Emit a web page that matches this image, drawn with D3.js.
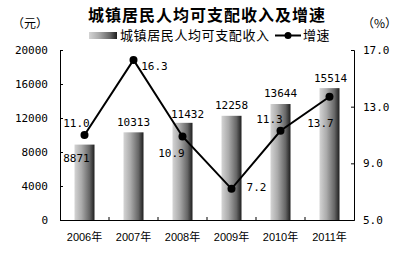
<!DOCTYPE html>
<html lang="zh">
<head>
<meta charset="UTF-8">
<title>城镇居民人均可支配收入及增速</title>
<script src="https://d3js.org/d3.v7.min.js"></script>
<style>
  body { margin: 0; background: #fff; }
  text { fill: #000; }
  .num { font-family: "DejaVu Sans Mono", monospace; font-size: 11px; }
  .cjk { font-family: "Noto Sans CJK SC", sans-serif; }
</style>
</head>
<body>
<script>
// data
var years = ["2006年", "2007年", "2008年", "2009年", "2010年", "2011年"]
var income = [8871, 10313, 11432, 12258, 13644, 15514]
var growth = [11.0, 16.3, 10.9, 7.2, 11.3, 13.7]
var leftTicks = [0, 4000, 8000, 12000, 16000, 20000]
var rightTicks = [5.0, 9.0, 13.0, 17.0]

var W = 414, H = 275
var plotL = 60, plotR = 354, plotT = 50, plotB = 220

var svg = d3.select("body").append("svg")
  .attr("width", W).attr("height", H)

var defs = svg.append("defs")
var grad = defs.append("linearGradient").attr("id", "barGrad")
  .attr("x1", "0%").attr("x2", "100%").attr("y1", "0%").attr("y2", "0%")
grad.append("stop").attr("offset", "0%").attr("stop-color", "#d4d4d4")
grad.append("stop").attr("offset", "35%").attr("stop-color", "#ababab")
grad.append("stop").attr("offset", "75%").attr("stop-color", "#666")
grad.append("stop").attr("offset", "100%").attr("stop-color", "#1e1e1e")

var x = d3.scaleBand().domain(years).range([plotL, plotR])
var yL = d3.scaleLinear().domain([0, 20000]).range([plotB, plotT])
var yR = d3.scaleLinear().domain([5, 17]).range([plotB, plotT])

// title
svg.append("text").attr("class", "cjk")
  .attr("x", 207).attr("y", 21).attr("text-anchor", "middle")
  .attr("font-size", 16).attr("font-weight", "bold").attr("letter-spacing", 1)
  .text("城镇居民人均可支配收入及增速")

svg.append("text").attr("class", "cjk").attr("x", 12).attr("y", 28)
  .attr("font-size", 12).text("（元）")
svg.append("text").attr("class", "cjk").attr("x", 362).attr("y", 28)
  .attr("font-size", 12).text("（%）")

// legend
svg.append("rect").attr("x", 89).attr("y", 32).attr("width", 28).attr("height", 7)
  .attr("fill", "url(#barGrad)")
svg.append("text").attr("class", "cjk").attr("x", 120).attr("y", 40)
  .attr("font-size", 13).attr("letter-spacing", 0.6).text("城镇居民人均可支配收入")
svg.append("line").attr("x1", 275).attr("x2", 301).attr("y1", 35.5).attr("y2", 35.5)
  .attr("stroke", "#000").attr("stroke-width", 2)
svg.append("circle").attr("cx", 288).attr("cy", 35.5).attr("r", 3.5).attr("fill", "#000")
svg.append("text").attr("class", "cjk").attr("x", 303).attr("y", 40)
  .attr("font-size", 13).attr("letter-spacing", 0.6).text("增速")

// bars
var bw = 20
svg.selectAll(".bar").data(income).enter().append("rect")
  .attr("class", "bar")
  .attr("x", function (d, i) { return x(years[i]) + x.bandwidth() / 2 - bw / 2 })
  .attr("y", function (d) { return yL(d) })
  .attr("width", bw)
  .attr("height", function (d) { return plotB - yL(d) })
  .attr("fill", "url(#barGrad)")

// axes
var axL = svg.append("g").attr("transform", "translate(" + plotL + ",0)")
  .call(d3.axisLeft(yL).tickValues(leftTicks).tickSize(-3).tickPadding(12).tickFormat(d3.format("d")))
var axR = svg.append("g").attr("transform", "translate(" + plotR + ",0)")
  .call(d3.axisRight(yR).tickValues(rightTicks).tickSize(-3).tickPadding(9).tickFormat(d3.format(".1f")))
var axB = svg.append("g").attr("transform", "translate(0," + plotB + ")")
  .call(d3.axisBottom(x).tickSize(0).tickPadding(13))

;[axL, axR, axB].forEach(function (g) {
  g.select(".domain").attr("stroke", "#000").attr("stroke-width", 1)
  g.selectAll(".tick line").attr("stroke", "#000")
})
axL.selectAll("text").attr("class", "num").attr("font-family", null).attr("font-size", null)
axR.selectAll("text").attr("class", "num").attr("font-family", null).attr("font-size", null)
axB.selectAll("text").attr("font-family", "Liberation Sans, Noto Sans CJK SC, sans-serif").attr("font-size", 11)

// category boundary ticks on the x axis
svg.selectAll(".xt").data(years.slice(1)).enter().append("line")
  .attr("x1", function (d) { return x(d) }).attr("x2", function (d) { return x(d) })
  .attr("y1", plotB).attr("y2", plotB - 3).attr("stroke", "#000")

// growth line
var line = d3.line()
  .x(function (d, i) { return x(years[i]) + x.bandwidth() / 2 })
  .y(function (d) { return yR(d) })
svg.append("path").datum(growth).attr("d", line)
  .attr("fill", "none").attr("stroke", "#000").attr("stroke-width", 2)
svg.selectAll(".pt").data(growth).enter().append("circle")
  .attr("cx", function (d, i) { return x(years[i]) + x.bandwidth() / 2 })
  .attr("cy", function (d) { return yR(d) })
  .attr("r", 4).attr("fill", "#000")

// value labels (offsets relative to the bar / point)
var incomeOff = [[-8, 17], [0, -6], [5, -5], [0, -7], [0, -7], [1, -6]]
var growthOff = [[-8, -8], [21, 10], [-11, 21], [25, 2], [-11, -8], [-9, 30]]

svg.selectAll(".il").data(income).enter().append("text")
  .attr("class", "num").attr("text-anchor", "middle")
  .attr("x", function (d, i) { return x(years[i]) + x.bandwidth() / 2 + incomeOff[i][0] })
  .attr("y", function (d, i) { return yL(d) + incomeOff[i][1] })
  .text(function (d) { return d })

svg.selectAll(".gl").data(growth).enter().append("text")
  .attr("class", "num").attr("text-anchor", "middle")
  .attr("x", function (d, i) { return x(years[i]) + x.bandwidth() / 2 + growthOff[i][0] })
  .attr("y", function (d, i) { return yR(d) + growthOff[i][1] })
  .text(function (d) { return d3.format(".1f")(d) })
</script>
</body>
</html>
